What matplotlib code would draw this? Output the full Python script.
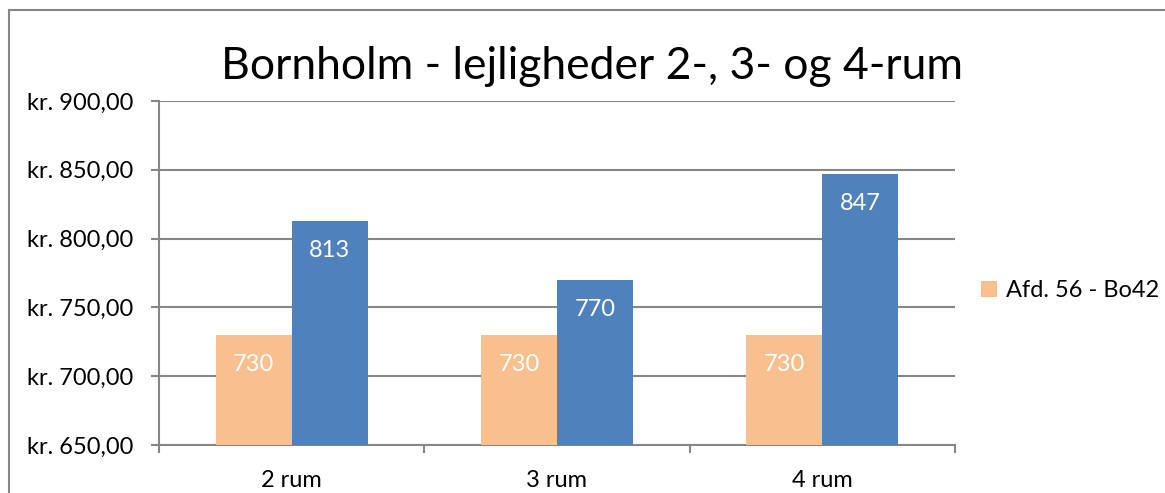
import matplotlib
matplotlib.use("Agg")
import matplotlib.pyplot as plt
from matplotlib.lines import Line2D
import numpy as np

plt.rcParams['font.family'] = ['Lato', 'DejaVu Sans']

categories = ["2 rum", "3 rum", "4 rum"]
afd56 = [730, 730, 730]
other = [813, 770, 847]
series_names = ["Afd. 56 - Bo42", ""]
yticks = [650, 700, 750, 800, 850, 900]
ytick_labels = ["kr. 650,00", "kr. 700,00", "kr. 750,00", "kr. 800,00", "kr. 850,00", "kr. 900,00"]

orange = "#F9C08F"
blue = "#4F81BD"
grid = "#868686"
fs = 17

fig = plt.figure(figsize=(11.65, 4.93), dpi=100)
ax = fig.add_axes([0.1365, 0.0974, 0.8197 - 0.1365, 0.7951 - 0.0974])

x = np.arange(len(categories))
w = 0.286
b1 = ax.bar(x - w / 2, afd56, width=w, color=orange, label=series_names[0], zorder=3)
b2 = ax.bar(x + w / 2, other, width=w, color=blue, zorder=3)

for bars, vals in ((b1, afd56), (b2, other)):
    for r, v in zip(bars, vals):
        ax.annotate(f"{v}", (r.get_x() + r.get_width() / 2, v), xytext=(0, -30),
                    textcoords="offset pixels", ha="center", va="center",
                    color="white", fontsize=fs, zorder=4)

ax.set_ylim(650, 900)
ax.set_xlim(-0.5, 2.5)
ax.set_yticks(yticks)
ax.set_yticklabels(ytick_labels, fontsize=fs)
ax.yaxis.grid(True, color=grid, linewidth=1.5, zorder=0)
ax.set_axisbelow(True)

ax.set_xticks([-0.5, 0.5, 1.5, 2.5])
ax.set_xticklabels([])
ax.set_xticks(x, minor=True)
ax.set_xticklabels(categories, minor=True, fontsize=fs)
ax.tick_params(axis="x", which="minor", length=0, pad=18)
ax.tick_params(axis="x", which="major", length=5.5, width=1.5, color=grid)
ax.tick_params(axis="y", length=5.5, width=1.5, color=grid, pad=13)

for s in ("top", "right"):
    ax.spines[s].set_visible(False)
for s in ("left", "bottom"):
    ax.spines[s].set_color(grid)
    ax.spines[s].set_linewidth(1.5)

fig.text(0.508, 0.866, "Bornholm - lejligheder 2-, 3- og 4-rum", ha="center", va="center",
         fontsize=32)

leg = fig.legend(handles=[b1], labels=[series_names[0]], loc="center left",
                 bbox_to_anchor=(0.842, 0.41), frameon=False, fontsize=fs,
                 handlelength=0.7, handleheight=0.7, handletextpad=0.35,
                 borderaxespad=0, borderpad=0)

fx = 9 / 1165
fy = 1 - 10 / 493
fig.add_artist(Line2D([fx, fx], [0, fy], transform=fig.transFigure, color=grid, linewidth=1.5))
fig.add_artist(Line2D([fx, 1], [fy, fy], transform=fig.transFigure, color=grid, linewidth=1.5))

fig.savefig("out.png", dpi=100)
